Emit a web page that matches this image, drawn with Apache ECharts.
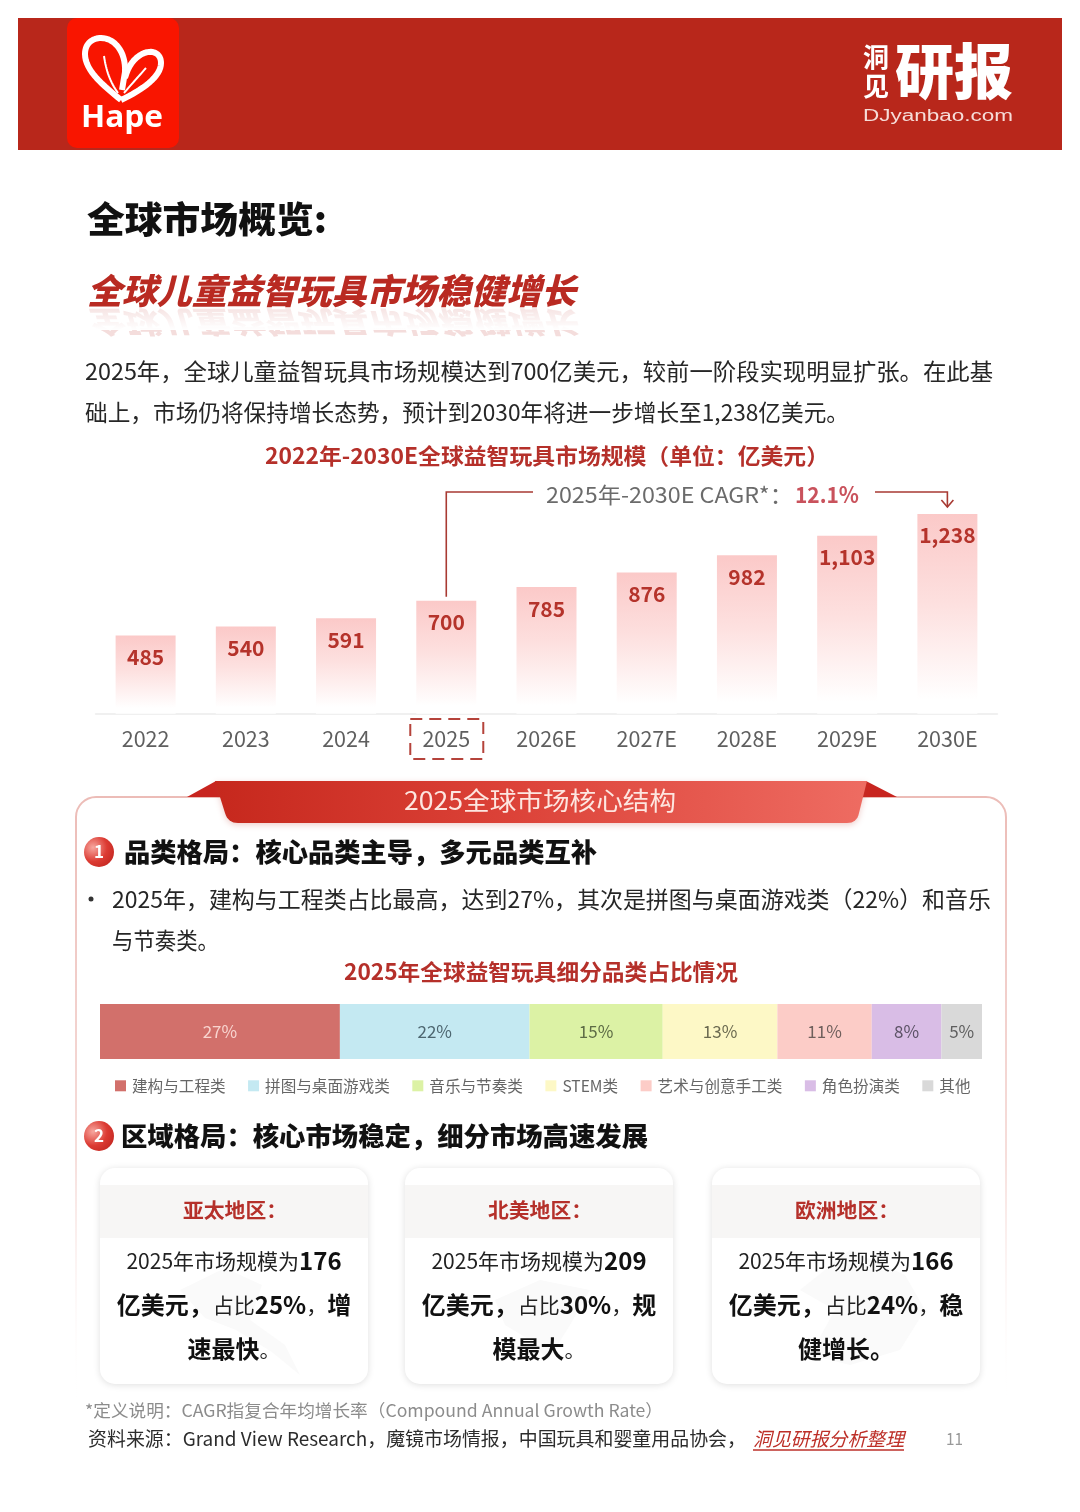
<!DOCTYPE html>
<html><head><meta charset="utf-8">
<style>html,body{margin:0;padding:0;background:#fff}#c{width:1080px;height:1512px}</style>
<script src="https://cdn.jsdelivr.net/npm/echarts@6/dist/echarts.min.js"></script>
</head><body><div id="c"></div>
<script>
const years = ['2022','2023','2024','2025','2026E','2027E','2028E','2029E','2030E'];
const marketSize = [485,540,591,700,785,876,982,1103,1238];
const shareNames = ['建构与工程类','拼图与桌面游戏类','音乐与节奏类','STEM类','艺术与创意手工类','角色扮演类','其他'];
const shareValues = [27.2,21.5,15.1,13,10.7,7.9,4.6];
const shareLabels = ['27%','22%','15%','13%','11%','8%','5%'];
const shareColors = ['#d2706b','#c4e9f2','#dcf2a5','#fdf8c6','#fcccc7','#d9bde6','#d9d9d9'];
const shareLabelColors = ['#f8d4cf','#4d6670','#5d6b45','#6b6a50','#6f5f5c','#5c5266','#5f5f5f'];
const FF = '"Noto Sans CJK SC","Noto Sans",sans-serif';
const RED = '#b5302a';

const mctx = document.createElement('canvas').getContext('2d');
function text(str, x, y, font, fill, o) {
  o = o || {};
  let sx = 1;
  const f = font + ' ' + (o.ff||FF);
  if (o.w) { mctx.font = f; sx = o.w / mctx.measureText(str).width; }
  return {type:'text', x, y, scaleX:sx, scaleY:o.sy||1, silent:true, z:o.z||10, style:{
    text:str, fill, font:f, opacity:o.opacity==null?1:o.opacity,
    align:o.align||'left', verticalAlign:'middle', textAlign:o.align||'left', textVerticalAlign:'middle'}};
}
// decorative outlines: M/L/C/Q commands flattened to points for polyline / polygon elements
function pts(d){
  const tk=d.match(/[MLCQZ]|-?\d+(\.\d+)?/g); let i=0,cmd='',p=[],c=[0,0];
  const num=()=>Number(tk[i++]);
  while(i<tk.length){
    if(/[MLCQZ]/.test(tk[i])){cmd=tk[i++]; if(cmd==='Z')continue;}
    if(cmd==='M'||cmd==='L'){c=[num(),num()];p.push(c);}
    else if(cmd==='C'){const a=[num(),num()],b=[num(),num()],e=[num(),num()];
      for(let k=1;k<=16;k++){const t=k/16,u=1-t;p.push([u*u*u*c[0]+3*u*u*t*a[0]+3*u*t*t*b[0]+t*t*t*e[0],u*u*u*c[1]+3*u*u*t*a[1]+3*u*t*t*b[1]+t*t*t*e[1]]);}
      c=e;}
    else if(cmd==='Q'){const a=[num(),num()],e=[num(),num()];
      for(let k=1;k<=8;k++){const t=k/8,u=1-t;p.push([u*u*c[0]+2*u*t*a[0]+t*t*e[0],u*u*c[1]+2*u*t*a[1]+t*t*e[1]]);}
      c=e;}
  }
  return p;
}
const rawPath=(d,style,z)=>({type:/Z\s*$/.test(d)?'polygon':'polyline',silent:true,z:z||5,shape:{points:pts(d)},style});
const rect=(x,y,w,h,fill,o)=>({type:'rect',silent:true,z:(o&&o.z)||3,shape:{x,y,width:w,height:h,r:(o&&o.r)||0},style:Object.assign({fill},(o&&o.style)||{})});

const G = [];
// header band
G.push(rect(18,18,1044,132,'#b8271b'));
G.push(rect(67,18,112,130,'#f91500',{r:10,z:4}));
G.push(rawPath('M121 100 C104 86 85 71 85 54 C85 43 93 38 101 38 C114 38 126 51 125 72 L122 90',{fill:null,stroke:'#fff',lineWidth:6,lineJoin:'round'},6));
G.push(rawPath('M121 100 C142 90 161 77 161 63 C161 53 152 49 142 54 C133 59 128 67 125 78',{fill:null,stroke:'#fff',lineWidth:6,lineJoin:'round'},6));
G.push(rawPath('M104 56 C106 70 110 82 118 93',{fill:null,stroke:'#fff',lineWidth:2},6));
G.push(rawPath('M146 68 C138 77 130 86 124 93',{fill:null,stroke:'#fff',lineWidth:2},6));
G.push(text('Hape',122,118,'bold 30px','#fff',{align:'center',w:82,ff:'"Open Sans",sans-serif'}));
G.push(text('洞',876,57,'bold 26px','#fff',{align:'center'}));
G.push(text('见',876,86,'bold 26px','#fff',{align:'center'}));
G.push(text('研报',895,71,'900 60px','#fff',{w:118}));
G.push(text('DJyanbao.com',863,117,'16px','#f6dcd8',{w:150,ff:'"Liberation Sans",sans-serif'}));

// titles
G.push(text('全球市场概览:',87,219,'900 36px','#111',{w:240}));
const sub='全球儿童益智玩具市场稳健增长';
G.push(text(sub,87,322,'italic 900 35px','#c0453d',{w:489,sy:-0.85,opacity:.18,z:8}));
G.push(rect(80,304,510,26,{type:'linear',x:0,y:0,x2:0,y2:1,colorStops:[{offset:0,color:'rgba(255,255,255,0.05)'},{offset:1,color:'#fff'}]},{z:9}));
G.push(text(sub,87,291,'italic 900 35px','#b92a22',{w:489,z:11}));

// intro
G.push(text('2025年，全球儿童益智玩具市场规模达到700亿美元，较前一阶段实现明显扩张。在此基',85,371,'23px','#262626',{w:908}));
G.push(text('础上，市场仍将保持增长态势，预计到2030年将进一步增长至1,238亿美元。',85,412,'23px','#262626',{w:764}));
G.push(text('2022年-2030E全球益智玩具市场规模（单位：亿美元）',265,456,'bold 22px',RED,{w:564}));

// panel
G.push(rect(76,797,930,720,null,{r:20,z:2,style:{fill:'#fff',lineWidth:2,stroke:{type:'linear',x:0,y:0,x2:0,y2:1,colorStops:[{offset:0,color:'#ecbcb7'},{offset:.5,color:'#f6dedb'},{offset:.85,color:'rgba(255,255,255,0)'}]}}}));
G.push(rawPath('M187 797 L216 781 L222 797 Z',{fill:'#c8251f'},4));
G.push(rawPath('M866 781 L897 797 L860 797 Z',{fill:'#c8251f'},4));
G.push(rawPath('M215 781 L867 781 L859 813 Q857 823 847 823 L238 823 Q228 823 225 813 Z',{fill:{type:'linear',x:0,y:0,x2:1,y2:0,colorStops:[{offset:0,color:'#c6281d'},{offset:.45,color:'#dc4238'},{offset:1,color:'#ee6c62'}]},shadowBlur:6,shadowColor:'rgba(190,60,50,0.25)',shadowOffsetY:2},5));
G.push(text('2025全球市场核心结构',540,800,'25px','#fde6e0',{align:'center',w:272}));

function badge(n,cy){
  G.push({type:'circle',silent:true,z:5,shape:{cx:99,cy,r:15},style:{fill:{type:'radial',x:.3,y:.35,r:.85,colorStops:[{offset:0,color:'#f7a79f'},{offset:.55,color:'#dc3b33'},{offset:1,color:'#c0241e'}]}}});
  G.push(text(n,99,cy,'bold 17px','#fff',{align:'center'}));
}
badge('1',852);
G.push(text('品类格局：核心品类主导，多元品类互补',124,852,'900 26px','#111',{w:473}));
G.push({type:'circle',silent:true,z:10,shape:{cx:91,cy:899,r:2.5},style:{fill:'#333'}});
G.push(text('2025年，建构与工程类占比最高，达到27%，其次是拼图与桌面游戏类（22%）和音乐',112,899,'23px','#262626',{w:879}));
G.push(text('与节奏类。',112,940,'23px','#262626',{w:107}));
G.push(text('2025年全球益智玩具细分品类占比情况',344,972,'bold 22px',RED,{w:394}));

badge('2',1136);
G.push(text('区域格局：核心市场稳定，细分市场高速发展',121,1136,'900 26px','#111',{w:527}));

// region cards
const regions = [
  {x:100,name:'亚太地区：',size:'176',share:'25%',tail1:'增',tail2:'速最快',end:'。'},
  {x:405,name:'北美地区：',size:'209',share:'30%',tail1:'规',tail2:'模最大',end:'。'},
  {x:712,name:'欧洲地区：',size:'166',share:'24%',tail1:'稳',tail2:'健增长。',end:''}
];
const watermarks = [
  'M180 1290 L225 1268 L262 1285 L250 1320 L285 1345 L300 1375 L272 1352 L236 1330 L205 1318 Z',
  'M495 1300 L540 1280 L590 1290 L570 1325 L548 1360 L530 1340 L505 1325 Z',
  'M800 1290 L850 1250 L905 1275 L925 1310 L900 1350 L850 1365 L810 1355 L835 1310 Z'
];
regions.forEach((r,i)=>{
  G.push(rect(r.x,1168,268,216,'#fff',{r:15,z:3,style:{shadowBlur:7,shadowColor:'rgba(0,0,0,0.13)',shadowOffsetY:1}}));
  G.push(rect(r.x,1185,268,53,'#f7f6f5',{z:4}));
  G.push(rawPath(watermarks[i],{fill:'#fafafa'},4));
  const cx=r.x+134;
  G.push(text(r.name,r.x+83,1210,'bold 20px',RED,{w:104}));
  const rich={b:{font:'bold 24px '+FF,fill:'#111'},n:{font:'21px '+FF,fill:'#222'}};
  const rt=(s,y)=>({type:'text',x:cx,y,silent:true,z:10,style:{text:s,rich,align:'center',verticalAlign:'middle',textAlign:'center',textVerticalAlign:'middle'}});
  G.push(rt('{n|2025年市场规模为}{b|'+r.size+'}',1261));
  G.push(rt('{b|亿美元，}{n|占比}{b|'+r.share+'}{n|，}{b|'+r.tail1+'}',1305));
  G.push(rt('{b|'+r.tail2+'}'+(r.end?'{n|'+r.end+'}':''),1349));
});

// footer
G.push(text('*定义说明：CAGR指复合年均增长率（Compound Annual Growth Rate）',85,1411,'17px','#8c8c8c',{w:578}));
G.push(text('资料来源：Grand View Research，魔镜市场情报，中国玩具和婴童用品协会，',88,1439,'19px','#2c2c2c',{w:658}));
G.push(text('洞见研报分析整理',753,1439,'italic 19px','#bd2f28',{w:151}));
G.push({type:'line',silent:true,z:10,shape:{x1:753,y1:1450,x2:904,y2:1450},style:{stroke:'#bd2f28',lineWidth:1.5}});
G.push(text('11',946,1439,'17px','#999',{w:17}));

const chart = echarts.init(document.getElementById('c'),null,{renderer:'canvas',width:1080,height:1512});
const option = {
  backgroundColor:'#fff', animation:false,
  grid:[
    {left:95.5,right:82.5,top:504,height:209.7,containLabel:false},
    {left:100,right:98,top:1004,height:55,containLabel:false}
  ],
  xAxis:[
    {gridIndex:0,type:'category',data:years,axisTick:{show:false},axisLine:{lineStyle:{color:'#ececec',width:1.5}},
     axisLabel:{color:'#5f5f5f',fontSize:21.5,fontFamily:FF,margin:14}},
    {gridIndex:1,type:'value',min:0,max:100,show:false}
  ],
  yAxis:[
    {gridIndex:0,type:'value',min:0,max:1300,show:false},
    {gridIndex:1,type:'category',data:['2025'],show:false}
  ],
  legend:{left:110,top:1073,itemWidth:11,itemHeight:11,itemGap:22.5,icon:'rect',selectedMode:false,
    data:shareNames,textStyle:{color:'#666',fontSize:15.6,fontFamily:FF,padding:[0,0,0,1]}},
  series:[
    {type:'bar',name:'市场规模',xAxisIndex:0,yAxisIndex:0,data:marketSize,barWidth:60,
     itemStyle:{color:{type:'linear',x:0,y:0,x2:0,y2:1,colorStops:[{offset:0,color:'#fbc9c8'},{offset:.45,color:'#fde0df'},{offset:.93,color:'#ffffff'}]}},
     label:{show:true,position:'insideTop',distance:11,color:'#b5332b',fontSize:21,fontWeight:'bold',fontFamily:FF,
       formatter:p=>p.value.toLocaleString('en-US')},z:6}
  ].concat(shareNames.map((n,i)=>({
    type:'bar',name:n,stack:'share',xAxisIndex:1,yAxisIndex:1,data:[shareValues[i]],barWidth:55,
    itemStyle:{color:shareColors[i]},
    label:{show:true,position:'inside',formatter:shareLabels[i],color:shareLabelColors[i],fontSize:17,fontFamily:FF},z:6
  }))),
  graphic:G
};
chart.setOption(option);

// annotations tied to the 2025 and 2030E bars through the chart's own scales
const cx2025 = chart.convertToPixel({xAxisIndex:0},'2025');
const cx2030 = chart.convertToPixel({xAxisIndex:0},'2030E');
const top2025 = chart.convertToPixel({yAxisIndex:0},marketSize[3]);
const top2030 = chart.convertToPixel({yAxisIndex:0},marketSize[8]);
const lineY = 492, DR='#a83a33';
const A = [
  {type:'polyline',silent:true,z:10,shape:{points:[[cx2025,top2025-4],[cx2025,lineY],[533,lineY]]},style:{fill:null,stroke:DR,lineWidth:1.6}},
  {type:'polyline',silent:true,z:10,shape:{points:[[875,lineY],[cx2030,lineY],[cx2030,top2030-7]]},style:{fill:null,stroke:DR,lineWidth:1.6}},
  {type:'polyline',silent:true,z:10,shape:{points:[[cx2030-6,top2030-14],[cx2030,top2030-7],[cx2030+6,top2030-14]]},style:{fill:null,stroke:DR,lineWidth:1.6}},
  {type:'rect',silent:true,z:10,shape:{x:cx2025-36,y:719,width:73,height:40},style:{fill:null,stroke:'#b5433b',lineWidth:2,lineDash:[12,7]}},
  text('2025年-2030E CAGR*：',546,495,'22px','#6b6b6b',{w:247}),
  text('12.1%',795,495,'bold 22px','#c9525c',{w:64})
];
chart.setOption({graphic:G.concat(A)});
</script></body></html>
